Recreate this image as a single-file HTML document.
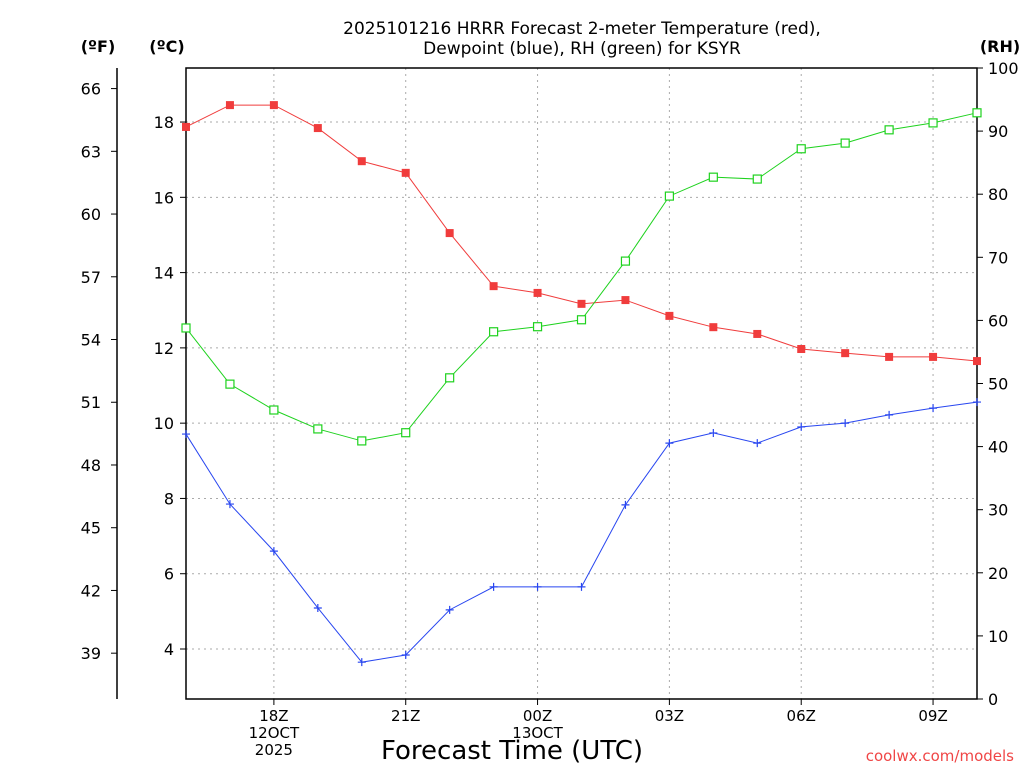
<!DOCTYPE html>
<html><head><meta charset="utf-8"><style>
body{margin:0;background:#fff;width:1024px;height:768px;overflow:hidden}
svg{font-family:"DejaVu Sans","Liberation Sans",sans-serif}
</style></head><body>
<svg id="c" width="1024" height="768" xmlns="http://www.w3.org/2000/svg"></svg>
<script>
const hours=[16,17,18,19,20,21,22,23,24,25,26,27,28,29,30,31,32,33,34];
const tempC=[17.87,18.45,18.45,17.84,16.96,16.65,15.05,13.64,13.46,13.17,13.27,12.85,12.55,12.37,11.97,11.86,11.76,11.76,11.65];
const dewC=[9.71,7.85,6.60,5.09,3.65,3.84,5.04,5.65,5.65,5.65,7.83,9.47,9.74,9.47,9.90,10.00,10.22,10.40,10.56];
const rh=[58.8,49.9,45.8,42.8,40.9,42.2,50.9,58.2,59.0,60.1,69.4,79.7,82.7,82.4,87.2,88.1,90.2,91.3,92.9];
const cTicks=[4,6,8,10,12,14,16,18];
const fTicks=[39,42,45,48,51,54,57,60,63,66];
const rhTicks=[0,10,20,30,40,50,60,70,80,90,100];
const xTicks=[{h:18,l:["18Z","12OCT","2025"]},{h:21,l:["21Z"]},{h:24,l:["00Z","13OCT"]},{h:27,l:["03Z"]},{h:30,l:["06Z"]},{h:33,l:["09Z"]}];
const L=186,R=977,T=68,B=699;
const x=h=>L+(h-16)*(R-L)/18;
const yC=c=>649-(c-4)*37.64;
const yF=f=>yC((f-32)*5/9);
const yR=r=>B-r*(B-T)/100;
const s=document.getElementById('c');const NS="http://www.w3.org/2000/svg";
function el(t,a,txt){const e=document.createElementNS(NS,t);for(const k in a)e.setAttribute(k,a[k]);if(txt!==undefined)e.textContent=txt;s.appendChild(e);return e;}
// grid
cTicks.forEach(c=>{const e=el('line',{x1:L,x2:R,y1:yC(c),y2:yC(c),stroke:'#aaa','stroke-dasharray':'2,4'});

});
xTicks.forEach(t=>{const e=el('line',{x1:x(t.h),x2:x(t.h),y1:T,y2:B,stroke:'#aaa','stroke-dasharray':'2,4'});

});
// frame
const fr=el('rect',{x:L,y:T,width:R-L,height:B-T,fill:'none',stroke:'#000','stroke-width':1.5});


const fa=el('line',{x1:117,x2:117,y1:T,y2:B,stroke:'#000','stroke-width':1.5});


// ticks
cTicks.forEach(c=>{el('line',{x1:L-6,x2:L,y1:yC(c),y2:yC(c),stroke:'#000'});
const t=el('text',{x:L-12,y:yC(c)+6,'text-anchor':'end','font-size':16},c);

});
fTicks.forEach(f=>{el('line',{x1:111,x2:117,y1:yF(f),y2:yF(f),stroke:'#000'});
const t=el('text',{x:101,y:yF(f)+6,'text-anchor':'end','font-size':16},f);

});
rhTicks.forEach(r=>{el('line',{x1:R,x2:R+6,y1:yR(r),y2:yR(r),stroke:'#000'});
const t=el('text',{x:R+11,y:yR(r)+6,'font-size':16},r);

});
xTicks.forEach(tk=>{el('line',{x1:x(tk.h),x2:x(tk.h),y1:B,y2:B+6,stroke:'#000'});
tk.l.forEach((ln,i)=>{const t=el('text',{x:x(tk.h),y:721+i*17,'text-anchor':'middle','font-size':15},ln);

});});
// series
function series(vals,yf,color,name,marker){
 const p=el('polyline',{points:vals.map((v,i)=>x(hours[i])+','+yf(v)).join(' '),fill:'none',stroke:color,'stroke-width':1});
 
 
 vals.forEach((v,i)=>{const cx=x(hours[i]),cy=yf(v);let m;
  if(marker==='fill')m=el('rect',{x:cx-4,y:cy-4,width:8,height:8,fill:color});
  else if(marker==='open')m=el('rect',{x:cx-4,y:cy-4,width:8,height:8,fill:'#fff',stroke:color,'stroke-width':1.2});
  else m=el('path',{d:`M${cx-4},${cy}H${cx+4}M${cx},${cy-4}V${cy+4}`,stroke:color,'stroke-width':1.2});
  
  });
}
series(tempC,yC,'#f03c3c','temperature','fill');
series(dewC,yC,'#2846f0','dewpoint','plus');
series(rh,yR,'#1ed21e','rh','open');
// titles
[['2025101216 HRRR Forecast 2-meter Temperature (red),',34],['Dewpoint (blue), RH (green) for KSYR',54]].forEach(([t,yy])=>{const e=el('text',{x:582,y:yy,'text-anchor':'middle','font-size':17},t);

});
[['(ºF)',98],['(ºC)',167],['(RH)',1000]].forEach(([t,xx])=>{const e=el('text',{x:xx,y:52,'text-anchor':'middle','font-size':16,'font-weight':'bold'},t);

});
const xt=el('text',{x:512,y:759,'text-anchor':'middle','font-size':26},'Forecast Time (UTC)');


const cr=el('text',{x:1014,y:761,'text-anchor':'end','font-size':15,fill:'#f04646'},'coolwx.com/models');


</script>
</body></html>
